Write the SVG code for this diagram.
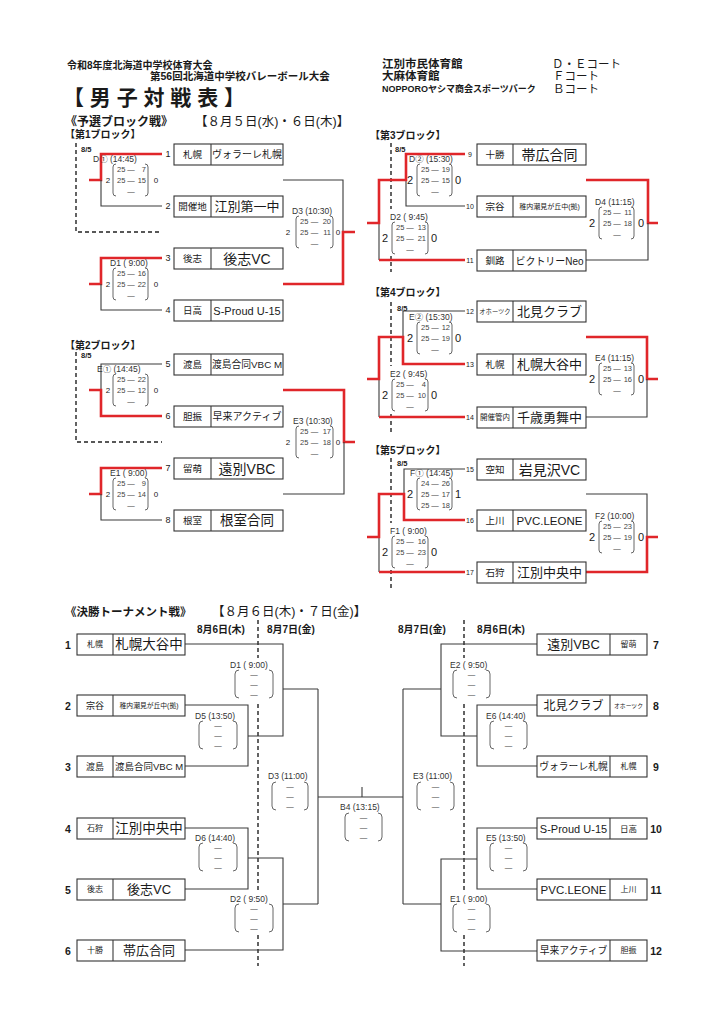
<svg xmlns="http://www.w3.org/2000/svg" width="724" height="1024" viewBox="0 0 724 1024">
<style>
text{font-family:"Liberation Sans","Noto Sans CJK JP",sans-serif;fill:#1a1a1a;dominant-baseline:central}
.b{font-weight:bold}
.m{text-anchor:middle}
.e{text-anchor:end}
.ln{fill:none;stroke:#3a3a3a;stroke-width:1.1}
.rd{fill:none;stroke:#e0262a;stroke-width:2.6}
.ds{fill:none;stroke:#222;stroke-width:1.4;stroke-dasharray:4 3}
.bx{fill:#fff;stroke:#333;stroke-width:1.1}
.pr{fill:none;stroke:#555;stroke-width:0.9}
.lb{font-size:8.5px;fill:#333}
.sc{font-size:7.5px;fill:#444}
.s1{font-size:8px}
.s2{font-size:11px}
.wb{fill:#fff}
</style>
<rect width="724" height="1024" fill="#fff"/>
<g id="header">
<text x="67" y="65" class="b" font-size="10">令和8年度北海道中学校体育大会</text>
<text x="150" y="76" class="b" font-size="10.5">第56回北海道中学校バレーボール大会</text>
<text x="63" y="97" class="b" font-size="21">【 男 子 対 戦 表 】</text>
<text x="382" y="64" class="b" font-size="11.5">江別市民体育館</text>
<text x="552" y="64" font-size="11.5">Ｄ・Ｅコート</text>
<text x="382" y="76" class="b" font-size="11.5">大麻体育館</text>
<text x="553" y="76" font-size="11.5">Ｆコート</text>
<text x="382" y="89" class="b" font-size="9">NOPPOROヤシマ商会スポーツパーク</text>
<text x="553" y="89" font-size="11.5">Ｂコート</text>
<text x="65" y="122" class="b" font-size="12">《予選ブロック戦》</text>
<text x="195" y="122" font-size="12.5">【８月５日(水)・６日(木)】</text>
<text x="65" y="134" class="b" font-size="10">【第1ブロック】</text>
<text x="81" y="149" class="b" font-size="7.5">8/5</text>
<text x="65" y="345" class="b" font-size="10">【第2ブロック】</text>
<text x="81" y="355" class="b" font-size="7.5">8/5</text>
<text x="370" y="135" class="b" font-size="10">【第3ブロック】</text>
<text x="395" y="149" class="b" font-size="7.5">8/5</text>
<text x="370" y="292" class="b" font-size="10">【第4ブロック】</text>
<text x="397" y="308" class="b" font-size="7.5">8/5</text>
<text x="370" y="450" class="b" font-size="10">【第5ブロック】</text>
<text x="397" y="463" class="b" font-size="7.5">8/5</text>
<text x="65" y="612" class="b" font-size="11.5">《決勝トーナメント戦》</text>
<text x="212" y="612" font-size="12.5">【８月６日(木)・７日(金)】</text>
<text x="197" y="629" class="b" font-size="10">8月6日(木)</text>
<text x="267" y="629" class="b" font-size="10">8月7日(金)</text>
<text x="398" y="629" class="b" font-size="10">8月7日(金)</text>
<text x="477" y="629" class="b" font-size="10">8月6日(木)</text>
</g>
<g id="connectors">
<path class="ds" d="M76,143 V232 H162"/>
<path class="rd" d="M162,154 H101 V180 H89"/>
<path class="ln" d="M101,180 V206 H162"/>
<path class="ln" d="M283,180 H343 V232"/>
<path class="rd" d="M355,232 H343 V284 H283"/>
<path class="rd" d="M162,258 H101 V284 H89"/>
<path class="ln" d="M101,284 V310 H162"/>
<path class="ds" d="M76,352 V442 H162"/>
<path class="ln" d="M162,364 H101 V390"/>
<path class="rd" d="M89,390 H101 V416 H162"/>
<path class="rd" d="M283,390 H344 V442 H355"/>
<path class="ln" d="M344,442 V494 H283"/>
<path class="rd" d="M162,468 H101 V494 H89"/>
<path class="ln" d="M101,494 V520 H162"/>
<path class="ds" d="M391,143 V272"/>
<path class="ln" d="M406,180 V206 H465"/>
<path class="ln" d="M379,223 V260"/>
<path class="rd" d="M465,154 H406 V180 H379 V223 H367"/>
<path class="rd" d="M379,260 H465"/>
<path class="rd" d="M586,180 H648 V223 H658"/>
<path class="ln" d="M648,223 V260 H586"/>
<path class="ds" d="M391,302 V432"/>
<path class="ln" d="M465,311 H403 V337"/>
<path class="ln" d="M379,379 V417"/>
<path class="rd" d="M367,379 H379 V337 H403 V364 H465"/>
<path class="rd" d="M379,417 H465"/>
<path class="rd" d="M586,337 H647 V379 H658"/>
<path class="ln" d="M647,379 V417 H586"/>
<path class="ds" d="M391,458 V588"/>
<path class="ln" d="M465,469 H404 V494"/>
<path class="ln" d="M379,537 V572"/>
<path class="rd" d="M367,537 H379 V494 H404 V520 H465"/>
<path class="rd" d="M379,572 H465"/>
<path class="ln" d="M586,494 H647 V537"/>
<path class="rd" d="M658,537 H647 V572 H586"/>
<path class="ds" d="M258,620 V966"/>
<path class="ds" d="M464,620 V966"/>
<path class="ln" d="M185,644 H283 V736 H248"/>
<path class="ln" d="M185,705 H248 V766 H185"/>
<path class="ln" d="M283,689 H318"/>
<path class="ln" d="M185,828 H248 V889 H185"/>
<path class="ln" d="M248,858 H283 V950 H185"/>
<path class="ln" d="M283,904 H318"/>
<path class="ln" d="M318,689 V904"/>
<path class="ln" d="M318,797 H403"/>
<path class="ln" d="M362,797 V787"/>
<path class="ln" d="M537,644 H441 V736 H477"/>
<path class="ln" d="M537,705 H477 V766 H537"/>
<path class="ln" d="M441,689 H403"/>
<path class="ln" d="M537,828 H477 V889 H537"/>
<path class="ln" d="M477,859 H441 V951 H537"/>
<path class="ln" d="M441,904 H403"/>
<path class="ln" d="M403,689 V904"/>
</g>
<!-- preliminary teams -->
<g id="p1"><text x="168" y="154" class="m" font-size="9">1</text><rect class="bx" x="174" y="144" width="109" height="21"/><line class="ln" x1="211" y1="144" x2="211" y2="165"/><text x="192.5" y="154.5" class="m" font-size="9.5">札幌</text><text x="247" y="154.5" class="m" font-size="10">ヴォラーレ札幌</text></g>
<g id="p2"><text x="168" y="206" class="m" font-size="9">2</text><rect class="bx" x="174" y="196" width="109" height="21"/><line class="ln" x1="211" y1="196" x2="211" y2="217"/><text x="192.5" y="206.5" class="m" font-size="9.5">開催地</text><text x="247" y="206.5" class="m" font-size="13">江別第一中</text></g>
<g id="p3"><text x="168" y="258" class="m" font-size="9">3</text><rect class="bx" x="174" y="248" width="109" height="21"/><line class="ln" x1="211" y1="248" x2="211" y2="269"/><text x="192.5" y="258.5" class="m" font-size="9.5">後志</text><text x="247" y="258.5" class="m" font-size="14">後志VC</text></g>
<g id="p4"><text x="168" y="310" class="m" font-size="9">4</text><rect class="bx" x="174" y="300" width="109" height="21"/><line class="ln" x1="211" y1="300" x2="211" y2="321"/><text x="192.5" y="310.5" class="m" font-size="9.5">日高</text><text x="247" y="310.5" class="m" font-size="11">S-Proud U-15</text></g>
<g id="p5"><text x="168" y="364" class="m" font-size="9">5</text><rect class="bx" x="174" y="354" width="109" height="21"/><line class="ln" x1="211" y1="354" x2="211" y2="375"/><text x="192.5" y="364.5" class="m" font-size="9.5">渡島</text><text x="247" y="364.5" class="m" font-size="9.8">渡島合同VBC M</text></g>
<g id="p6"><text x="168" y="416" class="m" font-size="9">6</text><rect class="bx" x="174" y="406" width="109" height="21"/><line class="ln" x1="211" y1="406" x2="211" y2="427"/><text x="192.5" y="416.5" class="m" font-size="9.5">胆振</text><text x="247" y="416.5" class="m" font-size="10">早来アクティブ</text></g>
<g id="p7"><text x="168" y="468" class="m" font-size="9">7</text><rect class="bx" x="174" y="458" width="109" height="21"/><line class="ln" x1="211" y1="458" x2="211" y2="479"/><text x="192.5" y="468.5" class="m" font-size="9.5">留萌</text><text x="247" y="468.5" class="m" font-size="14">遠別VBC</text></g>
<g id="p8"><text x="168" y="520" class="m" font-size="9">8</text><rect class="bx" x="174" y="510" width="109" height="21"/><line class="ln" x1="211" y1="510" x2="211" y2="531"/><text x="192.5" y="520.5" class="m" font-size="9.5">根室</text><text x="247" y="520.5" class="m" font-size="13.5">根室合同</text></g>
<g id="p9"><text x="470" y="154" class="m" font-size="7">9</text><rect class="bx" x="477" y="144" width="109" height="21"/><line class="ln" x1="513" y1="144" x2="513" y2="165"/><text x="495" y="154.5" class="m" font-size="9.5">十勝</text><text x="549.5" y="154.5" class="m" font-size="14">帯広合同</text></g>
<g id="p10"><text x="470" y="206" class="m" font-size="7">10</text><rect class="bx" x="477" y="196" width="109" height="21"/><line class="ln" x1="513" y1="196" x2="513" y2="217"/><text x="495" y="206.5" class="m" font-size="9.5">宗谷</text><text x="549.5" y="206.5" class="m" font-size="7">稚内潮見が丘中(拠)</text></g>
<g id="p11"><text x="470" y="260" class="m" font-size="7">11</text><rect class="bx" x="477" y="250" width="109" height="21"/><line class="ln" x1="513" y1="250" x2="513" y2="271"/><text x="495" y="260.5" class="m" font-size="9.5">釧路</text><text x="549.5" y="260.5" class="m" font-size="10.5" textLength="68" lengthAdjust="spacingAndGlyphs">ビクトリーNeo</text></g>
<g id="p12"><text x="470" y="311" class="m" font-size="7">12</text><rect class="bx" x="477" y="301" width="109" height="21"/><line class="ln" x1="513" y1="301" x2="513" y2="322"/><text x="495" y="311.5" class="m" font-size="6.3">オホーツク</text><text x="549.5" y="311.5" class="m" font-size="13">北見クラブ</text></g>
<g id="p13"><text x="470" y="364" class="m" font-size="7">13</text><rect class="bx" x="477" y="354" width="109" height="21"/><line class="ln" x1="513" y1="354" x2="513" y2="375"/><text x="495" y="364.5" class="m" font-size="9.5">札幌</text><text x="549.5" y="364.5" class="m" font-size="13">札幌大谷中</text></g>
<g id="p14"><text x="470" y="417" class="m" font-size="7">14</text><rect class="bx" x="477" y="407" width="109" height="21"/><line class="ln" x1="513" y1="407" x2="513" y2="428"/><text x="495" y="417.5" class="m" font-size="7.5">開催管内</text><text x="549.5" y="417.5" class="m" font-size="13">千歳勇舞中</text></g>
<g id="p15"><text x="470" y="469" class="m" font-size="7">15</text><rect class="bx" x="477" y="459" width="109" height="21"/><line class="ln" x1="513" y1="459" x2="513" y2="480"/><text x="495" y="469.5" class="m" font-size="9.5">空知</text><text x="549.5" y="469.5" class="m" font-size="14">岩見沢VC</text></g>
<g id="p16"><text x="470" y="520" class="m" font-size="7">16</text><rect class="bx" x="477" y="510" width="109" height="21"/><line class="ln" x1="513" y1="510" x2="513" y2="531"/><text x="495" y="520.5" class="m" font-size="9.5">上川</text><text x="549.5" y="520.5" class="m" font-size="11.5">PVC.LEONE</text></g>
<g id="p17"><text x="470" y="572" class="m" font-size="7">17</text><rect class="bx" x="477" y="562" width="109" height="21"/><line class="ln" x1="513" y1="562" x2="513" y2="583"/><text x="495" y="572.5" class="m" font-size="9.5">石狩</text><text x="549.5" y="572.5" class="m" font-size="13">江別中央中</text></g>
<!-- preliminary matches -->
<g id="mD1c"><text class="lb" x="93" y="159">D① (14:45)</text><path class="pr" d="M116,164 Q113,164 113,167 V193 Q113,196 116,196 M145,164 Q148,164 148,167 V193 Q148,196 145,196"/><text class="sc" x="117" y="169">25</text><text class="sc m" x="131" y="169">—</text><text class="sc e" x="146" y="169">7</text><text class="sc" x="117" y="180">25</text><text class="sc m" x="131" y="180">—</text><text class="sc e" x="146" y="180">15</text><text class="sc m" x="131" y="191">—</text><text class="s1 m" x="108" y="180">2</text><text class="s1 m" x="156" y="180">0</text></g>
<g id="mD1"><text class="lb" x="110" y="263">D1 ( 9:00)</text><path class="pr" d="M116,268 Q113,268 113,271 V297 Q113,300 116,300 M145,268 Q148,268 148,271 V297 Q148,300 145,300"/><text class="sc" x="117" y="273">25</text><text class="sc m" x="131" y="273">—</text><text class="sc e" x="146" y="273">16</text><text class="sc" x="117" y="284">25</text><text class="sc m" x="131" y="284">—</text><text class="sc e" x="146" y="284">22</text><text class="sc m" x="131" y="295">—</text><text class="s1 m" x="108" y="284">2</text><text class="s1 m" x="156" y="284">0</text></g>
<g id="mD3"><text class="lb" x="292" y="211">D3 (10:30)</text><path class="pr" d="M299,216 Q296,216 296,219 V245 Q296,248 299,248 M330,216 Q333,216 333,219 V245 Q333,248 330,248"/><text class="sc" x="300" y="221">25</text><text class="sc m" x="314.5" y="221">—</text><text class="sc e" x="331" y="221">20</text><text class="sc" x="300" y="232">25</text><text class="sc m" x="314.5" y="232">—</text><text class="sc e" x="331" y="232">11</text><text class="sc m" x="314.5" y="243">—</text><text class="s1 m" x="288" y="232">2</text><text class="s1 m" x="338" y="232">0</text></g>
<g id="mE1c"><text class="lb" x="97" y="369">E① (14:45)</text><path class="pr" d="M116,374 Q113,374 113,377 V403 Q113,406 116,406 M145,374 Q148,374 148,377 V403 Q148,406 145,406"/><text class="sc" x="117" y="379">25</text><text class="sc m" x="131" y="379">—</text><text class="sc e" x="146" y="379">22</text><text class="sc" x="117" y="390">25</text><text class="sc m" x="131" y="390">—</text><text class="sc e" x="146" y="390">12</text><text class="sc m" x="131" y="401">—</text><text class="s1 m" x="108" y="390">2</text><text class="s1 m" x="156" y="390">0</text></g>
<g id="mE1"><text class="lb" x="110" y="473">E1 ( 9:00)</text><path class="pr" d="M116,478 Q113,478 113,481 V507 Q113,510 116,510 M145,478 Q148,478 148,481 V507 Q148,510 145,510"/><text class="sc" x="117" y="483">25</text><text class="sc m" x="131" y="483">—</text><text class="sc e" x="146" y="483">9</text><text class="sc" x="117" y="494">25</text><text class="sc m" x="131" y="494">—</text><text class="sc e" x="146" y="494">14</text><text class="sc m" x="131" y="505">—</text><text class="s1 m" x="108" y="494">2</text><text class="s1 m" x="156" y="494">0</text></g>
<g id="mE3"><text class="lb" x="293" y="421">E3 (10:30)</text><path class="pr" d="M299,426 Q296,426 296,429 V455 Q296,458 299,458 M330,426 Q333,426 333,429 V455 Q333,458 330,458"/><text class="sc" x="300" y="431">25</text><text class="sc m" x="314.5" y="431">—</text><text class="sc e" x="331" y="431">17</text><text class="sc" x="300" y="442">25</text><text class="sc m" x="314.5" y="442">—</text><text class="sc e" x="331" y="442">18</text><text class="sc m" x="314.5" y="453">—</text><text class="s1 m" x="288" y="442">2</text><text class="s1 m" x="338" y="442">0</text></g>
<g id="mD2c"><text class="lb" x="409" y="159">D② (15:30)</text><path class="pr" d="M420,164 Q417,164 417,167 V193 Q417,196 420,196 M449,164 Q452,164 452,167 V193 Q452,196 449,196"/><text class="sc" x="421" y="169">25</text><text class="sc m" x="435" y="169">—</text><text class="sc e" x="450" y="169">19</text><text class="sc" x="421" y="180">25</text><text class="sc m" x="435" y="180">—</text><text class="sc e" x="450" y="180">15</text><text class="sc m" x="435" y="191">—</text><text class="s2 m" x="410" y="180">2</text><text class="s2 m" x="458" y="180">0</text></g>
<g id="mD2"><rect class="wb" x="387" y="209" width="44" height="47"/><text class="lb" x="390" y="217">D2 ( 9:45)</text><path class="pr" d="M395,222 Q392,222 392,225 V251 Q392,254 395,254 M425,222 Q428,222 428,225 V251 Q428,254 425,254"/><text class="sc" x="396" y="227">25</text><text class="sc m" x="410" y="227">—</text><text class="sc e" x="426" y="227">13</text><text class="sc" x="396" y="238">25</text><text class="sc m" x="410" y="238">—</text><text class="sc e" x="426" y="238">21</text><text class="sc m" x="410" y="249">—</text><text class="s2 m" x="385" y="238">2</text><text class="s2 m" x="434" y="238">0</text></g>
<g id="mD4"><text class="lb" x="595" y="202">D4 (11:15)</text><path class="pr" d="M602,207 Q599,207 599,210 V236 Q599,239 602,239 M631,207 Q634,207 634,210 V236 Q634,239 631,239"/><text class="sc" x="603" y="212">25</text><text class="sc m" x="617" y="212">—</text><text class="sc e" x="632" y="212">11</text><text class="sc" x="603" y="223">25</text><text class="sc m" x="617" y="223">—</text><text class="sc e" x="632" y="223">18</text><text class="sc m" x="617" y="234">—</text><text class="s2 m" x="592" y="223">2</text><text class="s2 m" x="641" y="223">0</text></g>
<g id="mE2c"><text class="lb" x="409" y="317">E② (15:30)</text><path class="pr" d="M420,322 Q417,322 417,325 V351 Q417,354 420,354 M449,322 Q452,322 452,325 V351 Q452,354 449,354"/><text class="sc" x="421" y="327">25</text><text class="sc m" x="435" y="327">—</text><text class="sc e" x="450" y="327">12</text><text class="sc" x="421" y="338">25</text><text class="sc m" x="435" y="338">—</text><text class="sc e" x="450" y="338">19</text><text class="sc m" x="435" y="349">—</text><text class="s2 m" x="410" y="338">2</text><text class="s2 m" x="458" y="338">0</text></g>
<g id="mE2"><rect class="wb" x="387" y="366" width="44" height="47"/><text class="lb" x="390" y="374">E2 ( 9:45)</text><path class="pr" d="M395,379 Q392,379 392,382 V408 Q392,411 395,411 M425,379 Q428,379 428,382 V408 Q428,411 425,411"/><text class="sc" x="396" y="384">25</text><text class="sc m" x="410" y="384">—</text><text class="sc e" x="426" y="384">4</text><text class="sc" x="396" y="395">25</text><text class="sc m" x="410" y="395">—</text><text class="sc e" x="426" y="395">10</text><text class="sc m" x="410" y="406">—</text><text class="s2 m" x="385" y="395">2</text><text class="s2 m" x="434" y="395">0</text></g>
<g id="mE4"><text class="lb" x="595" y="358">E4 (11:15)</text><path class="pr" d="M602,363 Q599,363 599,366 V392 Q599,395 602,395 M631,363 Q634,363 634,366 V392 Q634,395 631,395"/><text class="sc" x="603" y="368">25</text><text class="sc m" x="617" y="368">—</text><text class="sc e" x="632" y="368">13</text><text class="sc" x="603" y="379">25</text><text class="sc m" x="617" y="379">—</text><text class="sc e" x="632" y="379">16</text><text class="sc m" x="617" y="390">—</text><text class="s2 m" x="592" y="379">2</text><text class="s2 m" x="641" y="379">0</text></g>
<g id="mF1c"><text class="lb" x="410" y="473">F① (14:45)</text><path class="pr" d="M420,478 Q417,478 417,481 V507 Q417,510 420,510 M449,478 Q452,478 452,481 V507 Q452,510 449,510"/><text class="sc" x="421" y="483">24</text><text class="sc m" x="435" y="483">—</text><text class="sc e" x="450" y="483">26</text><text class="sc" x="421" y="494">25</text><text class="sc m" x="435" y="494">—</text><text class="sc e" x="450" y="494">17</text><text class="sc" x="421" y="505">25</text><text class="sc m" x="435" y="505">—</text><text class="sc e" x="450" y="505">18</text><text class="s2 m" x="410" y="494">2</text><text class="s2 m" x="458" y="494">1</text></g>
<g id="mF1"><rect class="wb" x="387" y="523" width="44" height="47"/><text class="lb" x="390" y="531">F1 ( 9:00)</text><path class="pr" d="M395,536 Q392,536 392,539 V565 Q392,568 395,568 M425,536 Q428,536 428,539 V565 Q428,568 425,568"/><text class="sc" x="396" y="541">25</text><text class="sc m" x="410" y="541">—</text><text class="sc e" x="426" y="541">16</text><text class="sc" x="396" y="552">25</text><text class="sc m" x="410" y="552">—</text><text class="sc e" x="426" y="552">23</text><text class="sc m" x="410" y="563">—</text><text class="s2 m" x="385" y="552">2</text><text class="s2 m" x="434" y="552">0</text></g>
<g id="mF2"><text class="lb" x="595" y="516">F2 (10:00)</text><path class="pr" d="M602,521 Q599,521 599,524 V550 Q599,553 602,553 M631,521 Q634,521 634,524 V550 Q634,553 631,553"/><text class="sc" x="603" y="526">25</text><text class="sc m" x="617" y="526">—</text><text class="sc e" x="632" y="526">23</text><text class="sc" x="603" y="537">25</text><text class="sc m" x="617" y="537">—</text><text class="sc e" x="632" y="537">19</text><text class="sc m" x="617" y="548">—</text><text class="s2 m" x="592" y="537">2</text><text class="s2 m" x="641" y="537">0</text></g>
<!-- final teams -->
<g id="f1"><text x="68" y="644.5" class="b m" font-size="10.5">1</text><rect class="bx" x="77" y="634" width="108" height="21"/><line class="ln" x1="113" y1="634" x2="113" y2="655"/><text x="95" y="644.5" class="m" font-size="8">札幌</text><text x="149" y="644.5" class="m" font-size="13.5">札幌大谷中</text></g>
<g id="f2"><text x="68" y="705.5" class="b m" font-size="10.5">2</text><rect class="bx" x="77" y="695" width="108" height="21"/><line class="ln" x1="113" y1="695" x2="113" y2="716"/><text x="95" y="705.5" class="m" font-size="9">宗谷</text><text x="149" y="705.5" class="m" font-size="6.8">稚内潮見が丘中(拠)</text></g>
<g id="f3"><text x="68" y="766.5" class="b m" font-size="10.5">3</text><rect class="bx" x="77" y="756" width="108" height="21"/><line class="ln" x1="113" y1="756" x2="113" y2="777"/><text x="95" y="766.5" class="m" font-size="9">渡島</text><text x="149" y="766.5" class="m" font-size="9.5">渡島合同VBC M</text></g>
<g id="f4"><text x="68" y="828.5" class="b m" font-size="10.5">4</text><rect class="bx" x="77" y="818" width="108" height="21"/><line class="ln" x1="113" y1="818" x2="113" y2="839"/><text x="95" y="828.5" class="m" font-size="8">石狩</text><text x="149" y="828.5" class="m" font-size="13.5">江別中央中</text></g>
<g id="f5"><text x="68" y="889.5" class="b m" font-size="10.5">5</text><rect class="bx" x="77" y="879" width="108" height="21"/><line class="ln" x1="113" y1="879" x2="113" y2="900"/><text x="95" y="889.5" class="m" font-size="8">後志</text><text x="149" y="889.5" class="m" font-size="13">後志VC</text></g>
<g id="f6"><text x="68" y="950.5" class="b m" font-size="10.5">6</text><rect class="bx" x="77" y="940" width="108" height="21"/><line class="ln" x1="113" y1="940" x2="113" y2="961"/><text x="95" y="950.5" class="m" font-size="8">十勝</text><text x="149" y="950.5" class="m" font-size="13">帯広合同</text></g>
<g id="f7"><text x="656" y="644.5" class="b m" font-size="10.5">7</text><rect class="bx" x="537" y="634" width="110" height="21"/><line class="ln" x1="610" y1="634" x2="610" y2="655"/><text x="573.5" y="644.5" class="m" font-size="13">遠別VBC</text><text x="628.5" y="644.5" class="m" font-size="8">留萌</text></g>
<g id="f8"><text x="656" y="705.5" class="b m" font-size="10.5">8</text><rect class="bx" x="537" y="695" width="110" height="21"/><line class="ln" x1="610" y1="695" x2="610" y2="716"/><text x="573.5" y="705.5" class="m" font-size="12">北見クラブ</text><text x="628.5" y="705.5" class="m" font-size="5.8">オホーツク</text></g>
<g id="f9"><text x="656" y="766.5" class="b m" font-size="10.5">9</text><rect class="bx" x="537" y="756" width="110" height="21"/><line class="ln" x1="610" y1="756" x2="610" y2="777"/><text x="573.5" y="766.5" class="m" font-size="9.8">ヴォラーレ札幌</text><text x="628.5" y="766.5" class="m" font-size="8">札幌</text></g>
<g id="f10"><text x="656" y="828.5" class="b m" font-size="10.5">10</text><rect class="bx" x="537" y="818" width="110" height="21"/><line class="ln" x1="610" y1="818" x2="610" y2="839"/><text x="573.5" y="828.5" class="m" font-size="11">S-Proud U-15</text><text x="628.5" y="828.5" class="m" font-size="8.5">日高</text></g>
<g id="f11"><text x="656" y="889.5" class="b m" font-size="10.5">11</text><rect class="bx" x="537" y="879" width="110" height="21"/><line class="ln" x1="610" y1="879" x2="610" y2="900"/><text x="573.5" y="889.5" class="m" font-size="11.5">PVC.LEONE</text><text x="628.5" y="889.5" class="m" font-size="8">上川</text></g>
<g id="f12"><text x="656" y="950.5" class="b m" font-size="10.5">12</text><rect class="bx" x="537" y="940" width="110" height="21"/><line class="ln" x1="610" y1="940" x2="610" y2="961"/><text x="573.5" y="950.5" class="m" font-size="9.8">早来アクティブ</text><text x="628.5" y="950.5" class="m" font-size="8">胆振</text></g>
<!-- final matches -->
<g id="fD1"><rect class="wb" x="229" y="658" width="46" height="43"/><text class="lb" x="230" y="665">D1 ( 9:00)</text><path class="pr" d="M239,670 Q235,670 235,674 V694 Q235,698 239,698 M269,670 Q273,670 273,674 V694 Q273,698 269,698"/><text class="sc m" x="254" y="674">—</text><text class="sc m" x="254" y="684">—</text><text class="sc m" x="254" y="694">—</text></g>
<g id="fD5"><text class="lb" x="195" y="716">D5 (13:50)</text><path class="pr" d="M203,721 Q199,721 199,725 V745 Q199,749 203,749 M233,721 Q237,721 237,725 V745 Q237,749 233,749"/><text class="sc m" x="218" y="725">—</text><text class="sc m" x="218" y="735">—</text><text class="sc m" x="218" y="745">—</text></g>
<g id="fD3"><text class="lb" x="268" y="776">D3 (11:00)</text><path class="pr" d="M276,782 Q272,782 272,786 V806 Q272,810 276,810 M304,782 Q308,782 308,786 V806 Q308,810 304,810"/><text class="sc m" x="290" y="786">—</text><text class="sc m" x="290" y="796">—</text><text class="sc m" x="290" y="806">—</text></g>
<g id="fB4"><text class="lb" x="340" y="807">B4 (13:15)</text><path class="pr" d="M349,813 Q345,813 345,817 V837 Q345,841 349,841 M378,813 Q382,813 382,817 V837 Q382,841 378,841"/><text class="sc m" x="363.5" y="817">—</text><text class="sc m" x="363.5" y="827">—</text><text class="sc m" x="363.5" y="837">—</text></g>
<g id="fE3"><text class="lb" x="413" y="776">E3 (11:00)</text><path class="pr" d="M421,782 Q417,782 417,786 V806 Q417,810 421,810 M450,782 Q454,782 454,786 V806 Q454,810 450,810"/><text class="sc m" x="435.5" y="786">—</text><text class="sc m" x="435.5" y="796">—</text><text class="sc m" x="435.5" y="806">—</text></g>
<g id="fD6"><text class="lb" x="195" y="838">D6 (14:40)</text><path class="pr" d="M203,843 Q199,843 199,847 V867 Q199,871 203,871 M233,843 Q237,843 237,847 V867 Q237,871 233,871"/><text class="sc m" x="218" y="847">—</text><text class="sc m" x="218" y="857">—</text><text class="sc m" x="218" y="867">—</text></g>
<g id="fD2"><rect class="wb" x="229" y="892" width="46" height="43"/><text class="lb" x="230" y="899">D2 ( 9:50)</text><path class="pr" d="M239,904 Q235,904 235,908 V928 Q235,932 239,932 M269,904 Q273,904 273,908 V928 Q273,932 269,932"/><text class="sc m" x="254" y="908">—</text><text class="sc m" x="254" y="918">—</text><text class="sc m" x="254" y="928">—</text></g>
<g id="fE2"><rect class="wb" x="448" y="658" width="44" height="43"/><text class="lb" x="450" y="665">E2 ( 9:50)</text><path class="pr" d="M457,670 Q453,670 453,674 V694 Q453,698 457,698 M486,670 Q490,670 490,674 V694 Q490,698 486,698"/><text class="sc m" x="471.5" y="674">—</text><text class="sc m" x="471.5" y="684">—</text><text class="sc m" x="471.5" y="694">—</text></g>
<g id="fE6"><text class="lb" x="486" y="716">E6 (14:40)</text><path class="pr" d="M494,721 Q490,721 490,725 V745 Q490,749 494,749 M523,721 Q527,721 527,725 V745 Q527,749 523,749"/><text class="sc m" x="508.5" y="725">—</text><text class="sc m" x="508.5" y="735">—</text><text class="sc m" x="508.5" y="745">—</text></g>
<g id="fE5"><text class="lb" x="486" y="838">E5 (13:50)</text><path class="pr" d="M494,843 Q490,843 490,847 V867 Q490,871 494,871 M523,843 Q527,843 527,847 V867 Q527,871 523,871"/><text class="sc m" x="508.5" y="847">—</text><text class="sc m" x="508.5" y="857">—</text><text class="sc m" x="508.5" y="867">—</text></g>
<g id="fE1"><rect class="wb" x="448" y="892" width="44" height="43"/><text class="lb" x="450" y="899">E1 ( 9:00)</text><path class="pr" d="M457,904 Q453,904 453,908 V928 Q453,932 457,932 M486,904 Q490,904 490,908 V928 Q490,932 486,932"/><text class="sc m" x="471.5" y="908">—</text><text class="sc m" x="471.5" y="918">—</text><text class="sc m" x="471.5" y="928">—</text></g>
</svg>
